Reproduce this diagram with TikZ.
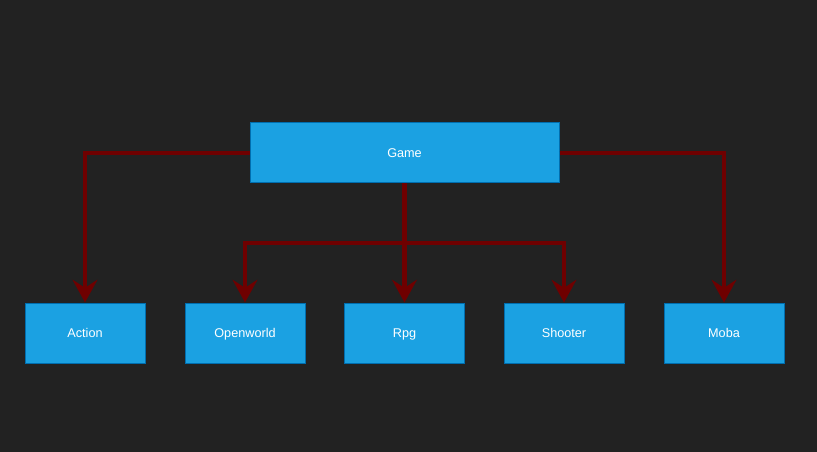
\documentclass[tikz,border=0pt]{standalone}
\usepackage{fontspec}
\setmainfont{Liberation Sans}
\usetikzlibrary{arrows.meta}
\definecolor{bgdark}{HTML}{222222}
\definecolor{boxfill}{HTML}{1BA1E2}
\definecolor{boxline}{HTML}{006EAF}
\definecolor{linkred}{HTML}{6F0000}
\begin{document}
\begin{tikzpicture}[x=0.75pt,y=-0.75pt,
		box/.style={draw=boxline,fill=boxfill,line width=0.75pt,rectangle,minimum width=90pt,minimum height=45pt,inner sep=0pt,text height=8.5pt,text depth=1.6pt,text=white,font=\fontsize{9.5}{11}\selectfont},
		link/.style={draw=linkred,line width=3.2pt,-{Stealth[length=17pt,width=18.5pt,inset=6pt]}}]
		% background
		\fill[bgdark] (0,0) rectangle (817,452);
		\useasboundingbox (0,0) rectangle (817,452);

		% root and genres
		\node[box,minimum width=231.75pt] (game) at (404.5,153) {Game};
		\node[box] (action) at (85,333) {Action};
		\node[box] (openworld) at (245,333) {Openworld};
		\node[box] (rpg) at (404.5,333) {Rpg};
		\node[box] (shooter) at (564,333) {Shooter};
		\node[box] (moba) at (724,333) {Moba};

		% connectors
		\coordinate (split) at (404.5,243);
		\draw[link] (game.west) -| (action.north);
		\draw[link] (game.east) -| (moba.north);
		\draw[link] (game.south) -- (rpg.north);
		\draw[link] (split) -| (openworld.north);
		\draw[link] (split) -| (shooter.north);
	\end{tikzpicture}
\end{document}
